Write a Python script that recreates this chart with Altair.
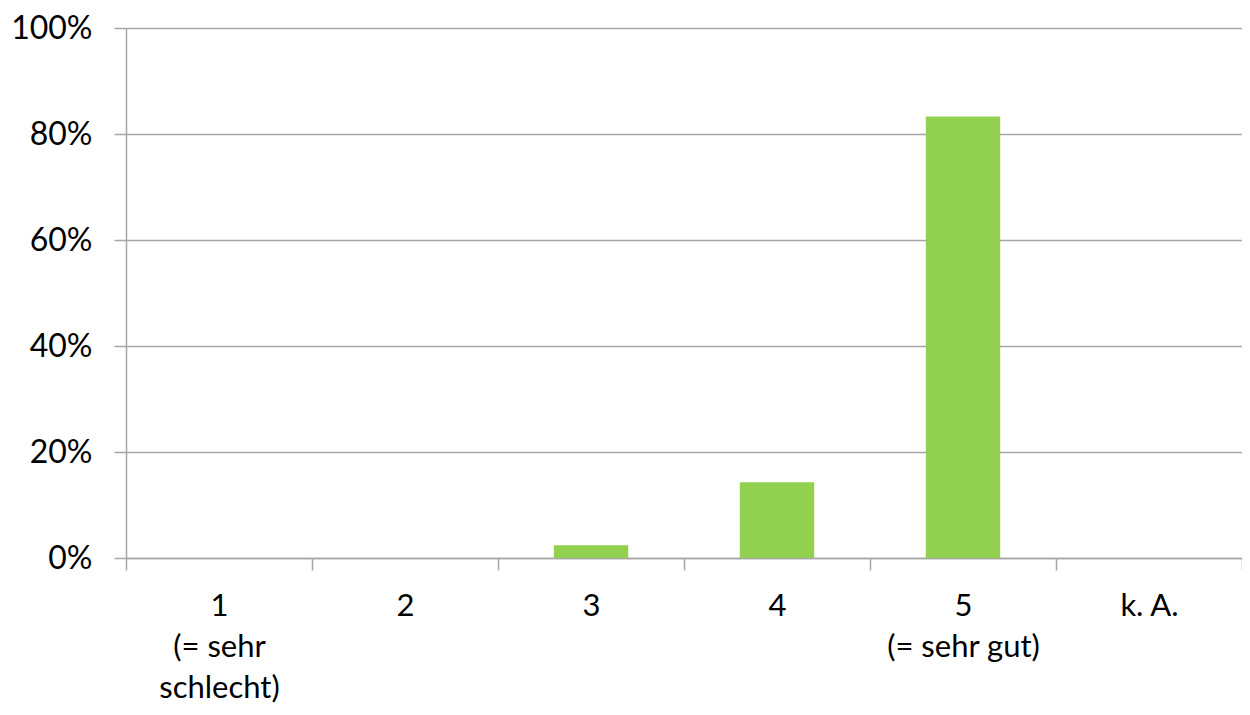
import altair as alt
import pandas as pd

categories = ["1", "2", "3", "4", "5", "k. A."]
shares = [0.0, 0.0, 0.024, 0.143, 0.833, 0.0]
label_lines = ["1|(= sehr|schlecht)", "2", "3", "4", "5|(= sehr gut)", "k. A."]
y_ticks = [0, 0.2, 0.4, 0.6, 0.8, 1.0]

df = pd.DataFrame({"cat": categories, "share": shares, "lbl": label_lines})

label_map = "{" + ",".join(f"'{c}':'{l}'" for c, l in zip(categories, label_lines)) + "}"

FONT = "Lato"
FS = 31
GRID = "#A6A6A6"

chart = alt.Chart(df).mark_bar(color="#92D050", width=alt.RelativeBandSize(0.4)).encode(
    x=alt.X(
        "cat:N",
        sort=categories,
        scale=alt.Scale(paddingInner=0, paddingOuter=0),
        axis=alt.Axis(
            title=None,
            labelAngle=0,
            labelExpr=f"split({label_map}[datum.value] || '', '|')",
            labelFont=FONT,
            labelFontSize=FS,
            labelColor="#000000",
            labelLineHeight=41,
            labelPadding=21,
            labelBaseline="top",
            tickBand="extent",
            ticks=True,
            tickSize=12,
            tickColor=GRID,
            tickWidth=1.5,
            domainColor=GRID,
            domainWidth=1.5,
            grid=False,
        ),
    ),
    y=alt.Y(
        "share:Q",
        scale=alt.Scale(domain=[0, 1]),
        axis=alt.Axis(
            title=None,
            values=y_ticks,
            format=".0%",
            labelFont=FONT,
            labelFontSize=FS + 1,
            labelColor="#000000",
            labelPadding=22,
            tickSize=12,
            tickColor=GRID,
            tickWidth=1.5,
            domainColor=GRID,
            domainWidth=1.5,
            grid=True,
            gridColor=GRID,
            gridWidth=1.5,
        ),
    ),
).properties(
    width=1116,
    height=530,
    autosize=alt.AutoSizeParams(type="none"),
    padding={"left": 118, "top": 20, "right": 0, "bottom": 149},
).configure_view(stroke=None).configure(background="white")

chart.save("out.html", embed_options={"renderer": "svg", "actions": False})
